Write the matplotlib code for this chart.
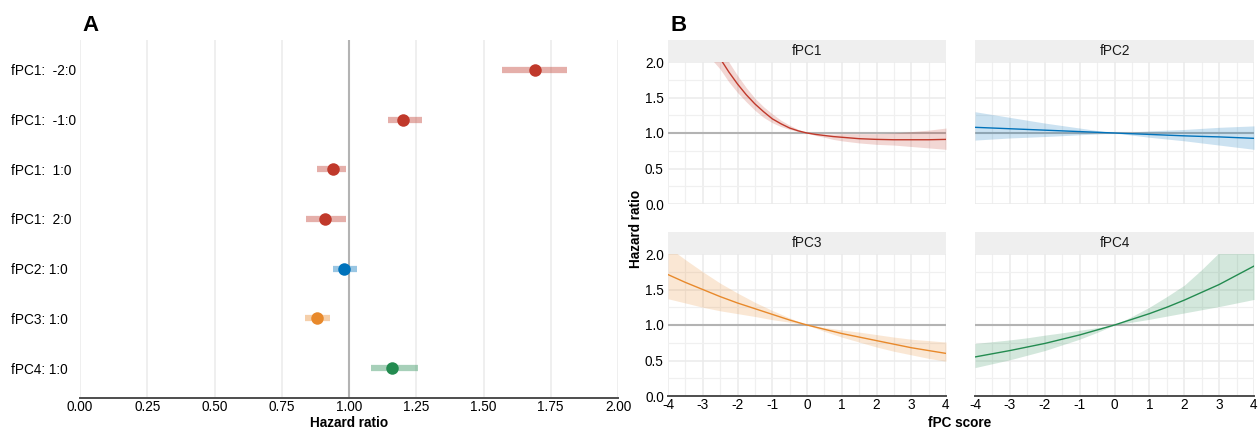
import numpy as np
import matplotlib
matplotlib.use("Agg")
import matplotlib.pyplot as plt
from matplotlib.ticker import MultipleLocator

plt.rcParams['font.family'] = ['Liberation Sans', 'DejaVu Sans']
plt.rcParams['font.size'] = 9.8

# ---- panel A data ----
labels = ["fPC1:  -2:0", "fPC1:  -1:0", "fPC1:  1:0", "fPC1:  2:0",
          "fPC2: 1:0", "fPC3: 1:0", "fPC4: 1:0"]
hr = [1.69, 1.20, 0.94, 0.91, 0.98, 0.88, 1.16]
hr_lo = [1.57, 1.145, 0.88, 0.84, 0.94, 0.835, 1.08]
hr_hi = [1.81, 1.27, 0.99, 0.99, 1.03, 0.93, 1.255]
groups = ["fPC1", "fPC1", "fPC1", "fPC1", "fPC2", "fPC3", "fPC4"]

colors = {"fPC1": "#c0392b", "fPC2": "#0072bb", "fPC3": "#e8892b", "fPC4": "#238b50"}

# ---- panel B data ----
score1 = [-4, -3.5, -3, -2.75, -2.5, -2.25, -2, -1.75, -1.5, -1.25, -1, -0.75, -0.5, -0.25,
          0, 0.25, 0.5, 0.75, 1, 1.5, 2, 2.5, 3, 3.5, 4]
fpc1_fit = [3.4, 2.9, 2.45, 2.24, 2.05, 1.86, 1.69, 1.54, 1.41, 1.30, 1.20, 1.13, 1.07, 1.03,
            1.0, 0.98, 0.965, 0.95, 0.94, 0.92, 0.91, 0.905, 0.905, 0.905, 0.91]
fpc1_lo = [2.9, 2.55, 2.2, 2.04, 1.90, 1.72, 1.57, 1.44, 1.32, 1.22, 1.145, 1.09, 1.05, 1.02,
           1.0, 0.965, 0.94, 0.91, 0.89, 0.86, 0.84, 0.83, 0.81, 0.79, 0.77]
fpc1_hi = [4.0, 3.3, 2.75, 2.45, 2.20, 2.0, 1.81, 1.64, 1.49, 1.37, 1.27, 1.18, 1.11, 1.05,
           1.0, 0.99, 0.985, 0.985, 0.99, 0.99, 0.99, 1.0, 1.02, 1.04, 1.07]

score = [-4, -3.5, -3, -2.5, -2, -1.5, -1, -0.5, 0, 0.5, 1, 1.5, 2, 2.5, 3, 3.5, 4]
fpc2_fit = [1.08, 1.07, 1.06, 1.05, 1.04, 1.03, 1.02, 1.01, 1.0, 0.99, 0.98, 0.97, 0.96, 0.952, 0.945, 0.935, 0.925]
fpc2_lo = [0.90, 0.915, 0.93, 0.94, 0.95, 0.962, 0.975, 0.987, 1.0, 0.97, 0.94, 0.915, 0.89, 0.86, 0.83, 0.80, 0.77]
fpc2_hi = [1.30, 1.26, 1.22, 1.18, 1.14, 1.105, 1.07, 1.035, 1.0, 1.015, 1.03, 1.04, 1.05, 1.065, 1.08, 1.09, 1.10]

fpc3_fit = [1.71, 1.60, 1.50, 1.40, 1.31, 1.23, 1.15, 1.07, 1.0, 0.94, 0.88, 0.83, 0.78, 0.73, 0.68, 0.64, 0.60]
fpc3_lo = [1.37, 1.31, 1.25, 1.20, 1.16, 1.12, 1.075, 1.04, 1.0, 0.91, 0.83, 0.76, 0.69, 0.63, 0.58, 0.53, 0.49]
fpc3_hi = [2.10, 1.92, 1.75, 1.59, 1.45, 1.32, 1.205, 1.10, 1.0, 0.965, 0.93, 0.90, 0.865, 0.83, 0.80, 0.78, 0.76]

fpc4_fit = [0.55, 0.595, 0.64, 0.69, 0.74, 0.80, 0.86, 0.93, 1.0, 1.08, 1.16, 1.25, 1.35, 1.46, 1.57, 1.70, 1.83]
fpc4_lo = [0.40, 0.455, 0.51, 0.575, 0.64, 0.72, 0.80, 0.895, 1.0, 1.04, 1.08, 1.125, 1.17, 1.215, 1.26, 1.31, 1.36]
fpc4_hi = [0.74, 0.765, 0.79, 0.82, 0.857, 0.89, 0.926, 0.962, 1.0, 1.12, 1.25, 1.40, 1.56, 1.78, 2.02, 2.2, 2.44]

grid_col = "#ebebeb"
ref_col = "#b3b3b3"
axis_col = "#4d4d4d"

W, H = 1260, 430
fig = plt.figure(figsize=(W / 100, H / 100), dpi=100)


def box(l, t, r, b):
    return [l / W, 1 - b / H, (r - l) / W, (b - t) / H]


# ================= panel A =================
ax = fig.add_axes(box(80, 40, 618, 398))
ypos = np.arange(len(labels))[::-1]
for y, m, lo, hi, g in zip(ypos, hr, hr_lo, hr_hi, groups):
    c = colors[g]
    ax.plot([lo, hi], [y, y], color=c, alpha=0.4, lw=4.5, solid_capstyle='butt', zorder=3)
    ax.plot(m, y, 'o', color=c, ms=9, mec='none', zorder=4)
ax.axvline(1.0, color=ref_col, lw=1.5, zorder=2)
ax.set_xlim(0, 2)
ax.set_ylim(-0.6, len(labels) - 0.4)
ax.set_xticks(np.arange(0, 2.01, 0.25))
ax.set_xticklabels([f"{v:.2f}" for v in np.arange(0, 2.01, 0.25)])
ax.set_yticks(ypos)
ax.set_yticklabels(labels)
for t in ax.get_yticklabels():
    t.set_horizontalalignment('left')
ax.tick_params(axis='y', length=0, pad=50)
ax.tick_params(axis='x', length=0, pad=1.5, colors='black')
ax.grid(axis='x', color=grid_col, lw=1.1, zorder=0)
for s in ['top', 'right', 'left']:
    ax.spines[s].set_visible(False)
ax.spines['bottom'].set_color(axis_col)
ax.spines['bottom'].set_linewidth(1.4)
fig.text(349 / W, 1 - 423 / H, "Hazard ratio", fontweight='bold', ha='center', va='center')
fig.text(82 / W, 1 - 31 / H, "A", fontsize=16, fontweight='bold', ha='left', va='baseline')

# ================= panel B =================
facets = [
    ("fPC1", score1, fpc1_fit, fpc1_lo, fpc1_hi, (668, 62, 946, 204)),
    ("fPC2", score, fpc2_fit, fpc2_lo, fpc2_hi, (975, 62, 1254, 204)),
    ("fPC3", score, fpc3_fit, fpc3_lo, fpc3_hi, (668, 254, 946, 396)),
    ("fPC4", score, fpc4_fit, fpc4_lo, fpc4_hi, (975, 254, 1254, 396)),
]
for i, (name, xs, fit, lo, hi, (l, t, r, b)) in enumerate(facets):
    a = fig.add_axes(box(l, t, r, b))
    c = colors[name]
    a.fill_between(xs, lo, hi, color=c, alpha=0.2, lw=0, zorder=2)
    a.axhline(1.0, color=ref_col, lw=1.5, zorder=1.5)
    a.plot(xs, fit, color=c, lw=1.0, zorder=3)
    a.set_xlim(-4, 4)
    a.set_ylim(0, 2)
    a.xaxis.set_major_locator(MultipleLocator(1))
    a.xaxis.set_minor_locator(MultipleLocator(0.5))
    a.yaxis.set_major_locator(MultipleLocator(0.5))
    a.yaxis.set_minor_locator(MultipleLocator(0.25))
    a.grid(which='major', color=grid_col, lw=1.1, zorder=0)
    a.grid(which='minor', color="#f0f0f0", lw=0.9, zorder=0)
    a.set_axisbelow(True)
    for s in a.spines.values():
        s.set_visible(False)
    a.tick_params(which='both', length=0)
    if i % 2 == 0:
        a.set_yticks([0, 0.5, 1.0, 1.5, 2.0])
        a.set_yticklabels(["0.0", "0.5", "1.0", "1.5", "2.0"])
        a.tick_params(axis='y', pad=3)
    else:
        a.set_yticklabels([])
    if i >= 2:
        a.set_xticks(np.arange(-4, 5, 1))
        a.set_xticklabels([str(v) for v in range(-4, 5)])
        a.tick_params(axis='x', pad=1.5)
        a.spines['bottom'].set_visible(True)
        a.spines['bottom'].set_color(axis_col)
        a.spines['bottom'].set_linewidth(1.4)
    else:
        a.set_xticklabels([])
    # facet strip
    sa = fig.add_axes(box(l, t - 22, r, t))
    sa.set_facecolor("#efefef")
    sa.set_xticks([])
    sa.set_yticks([])
    for s in sa.spines.values():
        s.set_visible(False)
    sa.text(0.5, 0.5, name, ha='center', va='center', color='#1a1a1a', transform=sa.transAxes)

fig.text(636 / W, 1 - 229 / H, "Hazard ratio", rotation=90, fontweight='bold',
         ha='center', va='center')
fig.text(960 / W, 1 - 423 / H, "fPC score", fontweight='bold', ha='center', va='center')
fig.text(670 / W, 1 - 31 / H, "B", fontsize=16, fontweight='bold', ha='left', va='baseline')

fig.savefig("out.png", dpi=100)
